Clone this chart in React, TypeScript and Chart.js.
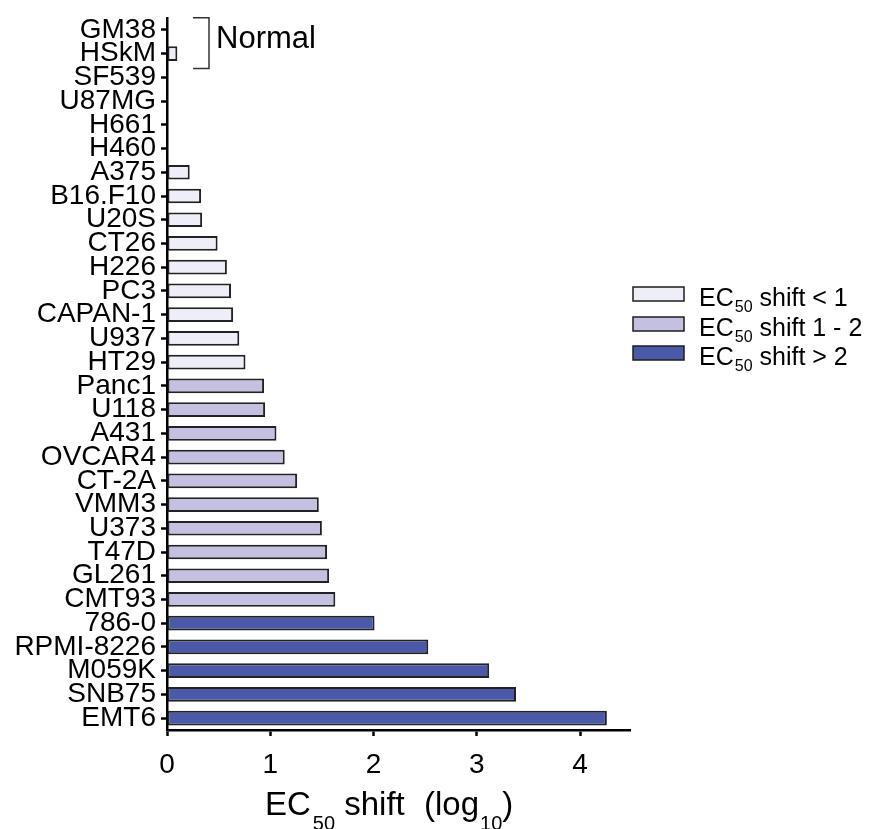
import { useEffect, useRef } from 'react';
import { Chart, registerables } from 'chart.js';

Chart.register(...registerables);

const categories = [
  'GM38', 'HSkM', 'SF539', 'U87MG', 'H661', 'H460', 'A375', 'B16.F10', 'U20S', 'CT26',
  'H226', 'PC3', 'CAPAN-1', 'U937', 'HT29', 'Panc1', 'U118', 'A431', 'OVCAR4', 'CT-2A',
  'VMM3', 'U373', 'T47D', 'GL261', 'CMT93', '786-0', 'RPMI-8226', 'M059K', 'SNB75', 'EMT6',
];
const shifts = [
  0, 0.10, 0, 0, 0, 0, 0.22, 0.33, 0.34, 0.49,
  0.58, 0.62, 0.64, 0.70, 0.76, 0.94, 0.95, 1.06, 1.14, 1.26,
  1.47, 1.50, 1.55, 1.57, 1.63, 2.01, 2.53, 3.12, 3.38, 4.26,
];
const groups = [
  0, 0, 0, 0, 0, 0, 0, 0, 0, 0,
  0, 0, 0, 0, 0, 1, 1, 1, 1, 1,
  1, 1, 1, 1, 1, 2, 2, 2, 2, 2,
];
const groupColors = ['#eeeef8', '#c3c0e1', '#4b5aa8'];
const legendSuffixes = [' shift < 1', ' shift 1 - 2', ' shift > 2'];
const xTicks = [0, 1, 2, 3, 4];
const xMax = 4.484;
const normalLabel = 'Normal';

const FONT = '"Liberation Sans", Arial, Helvetica, sans-serif';

type Part = { t: string; size: number; dy: number; gap?: number; x?: number };

function drawParts(ctx: CanvasRenderingContext2D, x: number, y: number, parts: Part[]) {
  let cx = x;
  ctx.textAlign = 'left';
  ctx.textBaseline = 'alphabetic';
  for (const p of parts) {
    if (p.x !== undefined) cx = p.x;
    cx += p.gap || 0;
    ctx.font = `${p.size}px ${FONT}`;
    ctx.fillText(p.t, cx, y + p.dy);
    cx += ctx.measureText(p.t).width;
  }
}

const overlayPlugin = {
  id: 'overlay',
  afterDraw(chart: any) {
    const ctx: CanvasRenderingContext2D = chart.ctx;
    const yScale = chart.scales.y;
    ctx.save();
    ctx.fillStyle = '#000';
    ctx.strokeStyle = '#333';

    // "Normal" bracket
    const yTop = yScale.getPixelForValue(0) - 12;
    const yBot = yScale.getPixelForValue(1) + 15;
    ctx.lineWidth = 1.5;
    ctx.beginPath();
    ctx.moveTo(193, yTop);
    ctx.lineTo(209, yTop);
    ctx.lineTo(209, yBot);
    ctx.lineTo(193, yBot);
    ctx.stroke();
    ctx.font = `31px ${FONT}`;
    ctx.textAlign = 'left';
    ctx.textBaseline = 'alphabetic';
    ctx.fillText(normalLabel, 216, 48);

    // legend
    const rowCenters = [294, 324, 353];
    legendSuffixes.forEach((suffix, i) => {
      const cy = rowCenters[i];
      ctx.fillStyle = groupColors[i];
      ctx.fillRect(633, cy - 7, 51, 14);
      ctx.strokeStyle = '#1e1e1e';
      ctx.lineWidth = 1.5;
      ctx.strokeRect(633, cy - 7, 51, 14);
      ctx.fillStyle = '#000';
      drawParts(ctx, 699, cy + 12, [
        { t: 'EC', size: 25, dy: 0 },
        { t: '50', size: 16, dy: 6, gap: 1 },
        { t: suffix, size: 25, dy: 0 },
      ]);
    });

    // x axis title
    drawParts(ctx, 265, 815, [
      { t: 'EC', size: 33, dy: 0 },
      { t: '50', size: 20, dy: 15, gap: 2 },
      { t: ' shift', size: 33, dy: 0 },
      { t: '(log', size: 33, dy: 0, x: 424 },
      { t: '10', size: 20, dy: 15, gap: 1 },
      { t: ')', size: 33, dy: 0 },
    ]);
    ctx.restore();
  },
};

export default function App() {
  const ref = useRef<HTMLCanvasElement>(null);

  useEffect(() => {
    if (!ref.current) return;
    const chart = new Chart(ref.current, {
      type: 'bar',
      data: {
        labels: categories,
        datasets: [
          {
            data: shifts,
            backgroundColor: groups.map((g) => groupColors[g]),
            borderColor: '#222',
            borderWidth: 2,
            borderSkipped: false,
            barPercentage: 0.62,
            categoryPercentage: 1,
          },
        ],
      },
      options: {
        indexAxis: 'y',
        responsive: false,
        animation: false,
        devicePixelRatio: 1,
        layout: { padding: { top: 18, right: 242, left: 0, bottom: 0 } },
        plugins: { legend: { display: false }, tooltip: { enabled: false } },
        scales: {
          y: {
            type: 'category',
            position: 'left',
            offset: true,
            grid: {
              offset: false,
              drawOnChartArea: false,
              drawTicks: true,
              tickLength: 6,
              tickWidth: 2.5,
              tickColor: '#000',
            },
            border: { display: true, color: '#000', width: 2.5 },
            ticks: {
              autoSkip: false,
              color: '#000',
              padding: 5,
              font: { family: FONT, size: 28 },
            },
            afterFit: (s: any) => {
              s.width = 167;
              s.paddingTop = 0;
              s.paddingBottom = 0;
            },
          },
          x: {
            type: 'linear',
            position: 'bottom',
            min: 0,
            max: xMax,
            grid: {
              drawOnChartArea: false,
              drawTicks: true,
              tickLength: 6,
              tickWidth: 2.5,
              tickColor: '#000',
            },
            border: { display: true, color: '#000', width: 2.5 },
            ticks: {
              color: '#000',
              padding: 12,
              font: { family: FONT, size: 28 },
            },
            afterBuildTicks: (s: any) => {
              s.ticks = xTicks.map((v) => ({ value: v }));
            },
            afterFit: (s: any) => {
              s.height = 99;
              s.paddingLeft = 0;
              s.paddingRight = 0;
            },
          },
        },
      },
      plugins: [overlayPlugin],
    } as any);
    return () => chart.destroy();
  }, []);

  return (
    <div style={{ position: 'fixed', left: 0, top: 0, width: 872, height: 829, background: '#fff' }}>
      <canvas ref={ref} width={872} height={829} style={{ width: 872, height: 829, display: 'block' }} />
    </div>
  );
}
